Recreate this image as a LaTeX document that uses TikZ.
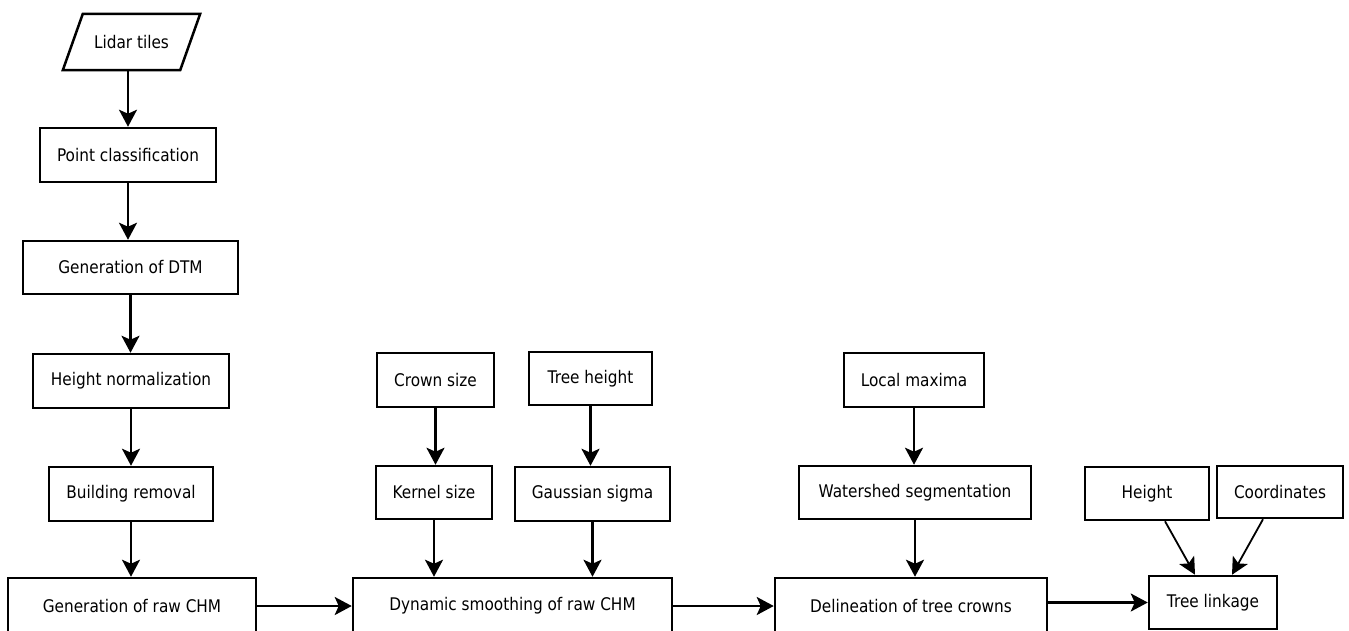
\documentclass[tikz,border=0pt]{standalone}
\usepackage{fontspec}
\setmainfont{DejaVu Sans}[FakeStretch=0.88]
\usetikzlibrary{arrows.meta,calc}
\begin{document}
\begin{tikzpicture}[x=1pt,y=-1pt,
  box/.style={draw=black, line width=2.5pt, fill=white, inner sep=0pt, align=center,
    font=\fontsize{17.4}{20}\selectfont},
  plain/.style={inner sep=0pt, align=center, font=\fontsize{17.4}{20}\selectfont},
  arr/.style={line width=2.5pt, -{Stealth[length=17pt,width=18pt,inset=4pt]}},
  darr/.style={line width=1.8pt, -{Stealth[length=17pt,width=17pt,inset=4pt]}}]
\clip (0,0) rectangle (1349,630);
\useasboundingbox (0,0) rectangle (1349,630);
\fill[white] (0,0) rectangle (1349,630);

% input parallelogram
\node[plain, minimum width=137pt, minimum height=56pt] (lidar) at (131.5,42) {Lidar tiles};
\draw[line width=2.5pt, line join=miter]
  ($(lidar.north west)+(20,0)$) -- (lidar.north east) -- ($(lidar.south east)+(-20,0)$) -- (lidar.south west) -- cycle;

% left column
\node[box, minimum width=176pt, minimum height=54pt] (pc) at (128,155) {Point classification};
\node[box, minimum width=215pt, minimum height=53pt] (dtm) at (130.5,267.5) {Generation of DTM};
\node[box, minimum width=196pt, minimum height=54pt] (hn) at (131,381) {Height normalization};
\node[box, minimum width=164pt, minimum height=54pt] (br) at (131,494) {Building removal};
\node[box, minimum width=248pt, minimum height=56pt] (raw) at (132,606) {Generation of raw CHM};

% smoothing column
\node[box, minimum width=117pt, minimum height=54pt] (crown) at (435.5,380) {Crown size};
\node[box, minimum width=123pt, minimum height=53pt] (treeh) at (590.5,378.5) {Tree height};
\node[box, minimum width=116pt, minimum height=53pt] (kernel) at (434,492.5) {Kernel size};
\node[box, minimum width=155pt, minimum height=54pt] (gauss) at (592.5,494) {Gaussian sigma};
\node[box, minimum width=319pt, minimum height=56pt] (dyn) at (512.5,606) {Dynamic smoothing of raw CHM};

% segmentation column
\node[box, minimum width=140pt, minimum height=54pt] (lmax) at (914,380) {Local maxima};
\node[box, minimum width=232pt, minimum height=53pt] (water) at (915,492.5) {Watershed segmentation};
\node[box, minimum width=272pt, minimum height=56pt] (delin) at (911,606) {Delineation of tree crowns};

% linkage
\node[box, minimum width=124pt, minimum height=53pt] (height) at (1147,493.5) {Height};
\node[box, minimum width=126pt, minimum height=52pt] (coords) at (1280,492) {Coordinates};
\node[box, minimum width=128pt, minimum height=53pt] (link) at (1213,602.5) {Tree linkage};

% connectors
\draw[arr] (lidar.south -| pc.north) -- (pc.north);
\draw[arr] (pc.south) -- (pc.south |- dtm.north);
\draw[arr] (dtm.south) -- (dtm.south |- hn.north);
\draw[arr] (hn.south) -- (hn.south |- br.north);
\draw[arr] (br.south) -- (br.south |- raw.north);
\draw[arr] (raw.east) -- (dyn.west);

\draw[arr] (crown.south) -- (crown.south |- kernel.north);
\draw[arr] (treeh.south) -- (treeh.south |- gauss.north);
\draw[arr] (kernel.south) -- (kernel.south |- dyn.north);
\draw[arr] (gauss.south) -- (gauss.south |- dyn.north);
\draw[arr] (dyn.east) -- (delin.west);

\draw[arr] (lmax.south) -- (lmax.south |- water.north);
\draw[arr] (water.south) -- (water.south |- delin.north);
\draw[arr] (delin.east |- link.west) -- (link.west);

\draw[darr] ([xshift=18pt]height.south) -- ([xshift=-18pt]link.north);
\draw[darr] ([xshift=-17pt]coords.south) -- ([xshift=19pt]link.north);
\end{tikzpicture}
\end{document}
